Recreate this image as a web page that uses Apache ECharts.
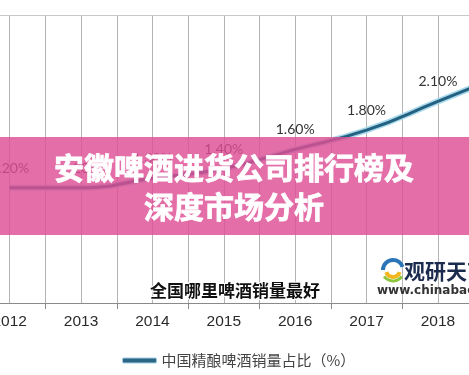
<!DOCTYPE html>
<html><head><meta charset="utf-8">
<script src="https://cdn.jsdelivr.net/npm/echarts@6/dist/echarts.min.js"></script>
<style>html,body{margin:0;padding:0;background:#fff;width:469px;height:375px;overflow:hidden;position:relative;}
#c{position:absolute;left:-26px;top:0;width:571px;height:375px;}</style>
</head><body><div id="c"></div>
<script>
var years = ['2012','2013','2014','2015','2016','2017','2018','2019'];
var shareValues = [1.2, 1.2, 1.3, 1.4, 1.6, 1.8, 2.1, 2.4];
var seriesName = '中国精酿啤酒销量占比（%）';
var bannerLines = ['安徽啤酒进货公司排行榜及', '深度市场分析'];
var watermark = '全国哪里啤酒销量最好';
var halfSlots = [];
for (var i = 0; i < years.length * 2; i++) halfSlots.push('');
var OX = 26; // container offset

var chart = echarts.init(document.getElementById('c'));
chart.setOption({
  animation: false,
  grid: { left: 0, right: 0, top: 15, bottom: 72, containLabel: false },
  xAxis: [{
    type: 'category', data: years, boundaryGap: true, position: 'bottom',
    axisLine: { lineStyle: { color: '#8a8a8a', width: 1 } },
    axisTick: { show: true, length: 6, lineStyle: { color: '#8a8a8a' } },
    axisLabel: { color: '#2a2a2a', fontSize: 15.5, margin: 11, fontFamily: 'Liberation Sans, Arial, sans-serif' },
    splitLine: { show: false }
  }, {
    type: 'category', data: halfSlots, boundaryGap: true, position: 'top',
    axisLine: { show: true, lineStyle: { color: '#c8c8c8', width: 1 } },
    axisTick: { show: false }, axisLabel: { show: false },
    splitLine: { show: true, interval: 0, lineStyle: { color: '#b4b4b4', width: 1 } }
  }],
  yAxis: { type: 'value', min: 0, max: 3, show: false, splitLine: { show: false } },
  legend: {
    data: [seriesName], left: 117 + OX, top: 348, icon: 'roundRect',
    itemWidth: 34, itemHeight: 5, itemGap: 5,
    itemStyle: { color: '#2d6585', borderColor: '#9fcfe4', borderWidth: 1 },
    textStyle: { color: '#444', fontSize: 15, fontFamily: '"Noto Sans CJK SC", sans-serif' }
  },
  series: [{
    name: 'glow', type: 'line', smooth: true, xAxisIndex: 0, data: shareValues,
    symbol: 'none', lineStyle: { color: '#a8d8ec', width: 6 }, z: 2, silent: true
  }, {
    name: seriesName, type: 'line', smooth: true, xAxisIndex: 0, data: shareValues,
    symbol: 'circle', symbolSize: 1, showSymbol: true,
    itemStyle: { color: '#2d6585' },
    lineStyle: { color: '#24607f', width: 3 },
    label: { show: true, position: 'top', distance: 12, color: '#333', fontSize: 14,
      fontFamily: 'Lato, sans-serif',
      formatter: function (p) { return p.value.toFixed(2) + '%'; } },
    z: 3
  }],
  graphic: [
    { type: 'rect', z: 100, shape: { x: 0, y: 137, width: 571, height: 98 },
      style: { fill: 'rgba(222,78,148,0.82)' } },
    { type: 'text', z: 101, x: 234 + OX, y: 168,
      style: { text: bannerLines[0], fill: '#fff', stroke: '#fff', lineWidth: 0.8, font: 'bold 30px "Noto Sans CJK SC"', textAlign: 'center', textVerticalAlign: 'middle' } },
    { type: 'text', z: 101, x: 234 + OX, y: 207,
      style: { text: bannerLines[1], fill: '#fff', stroke: '#fff', lineWidth: 0.8, font: 'bold 30px "Noto Sans CJK SC"', textAlign: 'center', textVerticalAlign: 'middle' } },
    { type: 'text', z: 101, x: 235 + OX, y: 291,
      style: { text: watermark, fill: '#111', stroke: '#fff', lineWidth: 2, font: 'bold 17px "Noto Sans CJK SC"', textAlign: 'center', textVerticalAlign: 'middle' } },
    { type: 'arc', z: 101, shape: { cx: 393 + OX, cy: 270, r: 10, startAngle: Math.PI * 1.0, endAngle: Math.PI * 1.9 },
      style: { stroke: '#2a74b8', lineWidth: 4, fill: null } },
    { type: 'arc', z: 101, shape: { cx: 393 + OX, cy: 270, r: 7, startAngle: Math.PI * 0.1, endAngle: Math.PI * 0.9 },
      style: { stroke: '#f2b51c', lineWidth: 4, fill: null } },
    { type: 'arc', z: 101, shape: { cx: 393 + OX, cy: 270, r: 11, startAngle: Math.PI * 0.2, endAngle: Math.PI * 0.8 },
      style: { stroke: '#8cc63e', lineWidth: 3, fill: null } },
    { type: 'text', z: 101, x: 404 + OX, y: 271,
      style: { text: '观研天下', fill: '#1b2b4d', font: 'bold 21px "Noto Sans CJK SC"', textVerticalAlign: 'middle' } },
    { type: 'text', z: 101, x: 377 + OX, y: 291,
      style: { text: 'www.chinabaogao.com', fill: '#333', font: 'bold 12px "DejaVu Sans"', textVerticalAlign: 'middle' } }
  ]
});
</script></body></html>
